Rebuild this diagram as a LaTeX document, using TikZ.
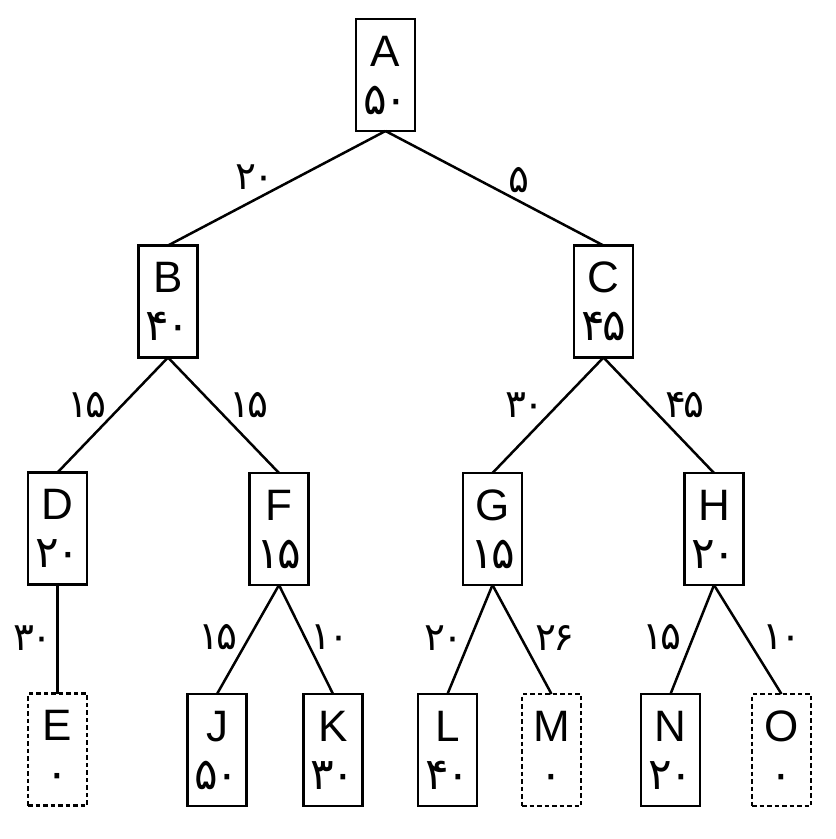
\documentclass[tikz,border=0pt]{standalone}
\usepackage{fontspec}
\setmainfont{Liberation Sans}
\newfontfamily\fadigits[LetterSpace=-6]{DejaVu Sans}
\usetikzlibrary{calc}
\tikzset{
  treebox/.style={draw, line width=2.6pt, minimum width=59pt, minimum height=112pt, inner sep=0pt, outer sep=0pt},
  leafbox/.style={treebox, dash pattern=on 4.5pt off 3pt},
  letter/.style={inner sep=0pt, anchor=base, font=\fontsize{44}{44}\selectfont},
  value/.style={inner sep=0pt, anchor=base, font=\fadigits\fontsize{44}{44}\selectfont},
  wlabel/.style={inner sep=0pt, font=\fadigits\fontsize{39}{39}\selectfont},
  edge/.style={line width=2.5pt}
}
\newcommand{\tbox}[6]{%
  \node[#6] (#1) at (#2,#3) {};
  \node[letter] (#1-l) at ($(#2,#3)+(0,-9)$) {#4};
  \node[value] (#1-v) at ($(#2,#3)+(0,39)$) {#5};
}
\begin{document}
\begin{tikzpicture}[x=1pt,y=-1pt]
\useasboundingbox (0,0) rectangle (836,839);
\tbox{A}{385.5}{75}{A}{۵۰}{treebox}
\tbox{B}{168}{301.5}{B}{۴۰}{treebox}
\tbox{C}{603.5}{301.5}{C}{۴۵}{treebox}
\tbox{D}{57.5}{528.5}{D}{۲۰}{treebox}
\tbox{F}{279}{529}{F}{۱۵}{treebox}
\tbox{G}{492.5}{529}{G}{۱۵}{treebox}
\tbox{H}{714}{529}{H}{۲۰}{treebox}
\tbox{E}{57.5}{749.5}{E}{۰}{leafbox}
\tbox{J}{217}{750}{J}{۵۰}{treebox}
\tbox{K}{333}{750}{K}{۳۰}{treebox}
\tbox{L}{447.5}{750}{L}{۴۰}{treebox}
\tbox{M}{551.5}{750}{M}{۰}{leafbox}
\tbox{N}{670.5}{750}{N}{۲۰}{treebox}
\tbox{O}{781.5}{750}{O}{۰}{leafbox}
\draw[edge] (A.south) -- (B.north);
\draw[edge] (A.south) -- (C.north);
\draw[edge] (B.south) -- (D.north);
\draw[edge] (B.south) -- (F.north);
\draw[edge] (C.south) -- (G.north);
\draw[edge] (C.south) -- (H.north);
\draw[edge] (D.south) -- (E.north);
\draw[edge] (F.south) -- (J.north);
\draw[edge] (F.south) -- (K.north);
\draw[edge] (G.south) -- (L.north);
\draw[edge] (G.south) -- (M.north);
\draw[edge] (H.south) -- (N.north);
\draw[edge] (H.south) -- (O.north);
\node[wlabel] (lAB) at (255,177) {۲۰};
\node[wlabel] (lAC) at (519,180) {۵};
\node[wlabel] (lBD) at (87,405) {۱۵};
\node[wlabel] (lBF) at (249,405) {۱۵};
\node[wlabel] (lCG) at (525,405) {۳۰};
\node[wlabel] (lCH) at (685,405) {۴۵};
\node[wlabel] (lDE) at (33,638) {۳۰};
\node[wlabel] (lFJ) at (218,637) {۱۵};
\node[wlabel] (lFK) at (330,637) {۱۰};
\node[wlabel] (lGL) at (444,638) {۲۰};
\node[wlabel] (lGM) at (555,638) {۲۶};
\node[wlabel] (lHN) at (662,637) {۱۵};
\node[wlabel] (lHO) at (782,637) {۱۰};
\end{tikzpicture}
\end{document}
